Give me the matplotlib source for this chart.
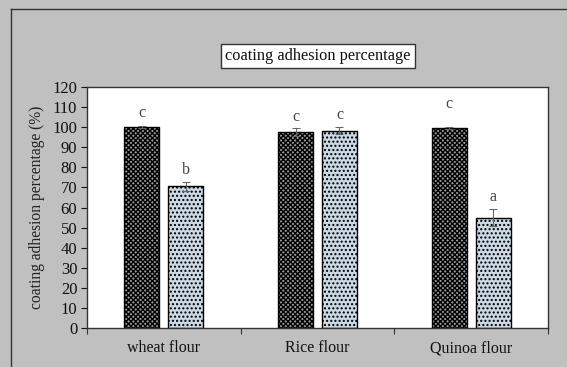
import matplotlib.pyplot as plt
import numpy as np
from matplotlib.lines import Line2D

plt.rcParams["font.family"] = ["Liberation Serif", "DejaVu Serif"]
plt.rcParams["hatch.linewidth"] = 1.0

flours = ["wheat flour", "Rice flour", "Quinoa flour"]
first_vals = [100.1, 97.6, 99.6]
first_err = [0.3, 1.8, 0.5]
second_vals = [70.6, 98.3, 54.9]
second_err = [2.3, 1.8, 4.3]
first_letters = ["c", "c", "c"]
second_letters = ["b", "c", "a"]

fig = plt.figure(figsize=(5.67, 3.67), dpi=100)
fig.patch.set_facecolor("#c0c0c0")

# outer chart frame: only the left and top edges fall inside the image
fx, fy = 11 / 567, 1 - 9 / 367
fig.lines.append(Line2D([fx, fx], [0, fy], transform=fig.transFigure,
                        color="#333333", linewidth=1.0))
fig.lines.append(Line2D([fx, 1], [fy, fy], transform=fig.transFigure,
                        color="#333333", linewidth=1.0))

ax = fig.add_axes([87 / 567, 39 / 367, 461 / 567, 241 / 367])
ax.set_facecolor("white")

x = np.arange(len(flours))
off = 0.143
width = 0.228

ax.bar(x - off, first_vals, width, color="#9a9a9a", edgecolor="black",
       hatch="xxxxxxx", linewidth=1.0, zorder=2)
ax.bar(x + off, second_vals, width, color="#ccd8e4", edgecolor="black",
       hatch="....", linewidth=1.0, zorder=2)
ax.errorbar(x - off, first_vals, yerr=first_err, fmt="none", ecolor="#666666",
            elinewidth=0.8, capsize=3, capthick=0.8, zorder=3)
ax.errorbar(x + off, second_vals, yerr=second_err, fmt="none", ecolor="#666666",
            elinewidth=0.8, capsize=3, capthick=0.8, zorder=3)

first_letter_y = [107, 105, 111.5]
second_letter_y = [78.7, 106, 65]
for i in range(len(flours)):
    ax.text(x[i] - off, first_letter_y[i], first_letters[i], ha="center",
            va="center", fontsize=11.5, color="#444444")
    ax.text(x[i] + off, second_letter_y[i], second_letters[i], ha="center",
            va="center", fontsize=11.5, color="#444444")

ax.set_xlim(-0.5, 2.5)
ax.set_ylim(0, 120)
ax.set_yticks(range(0, 121, 10))
ax.tick_params(axis="y", direction="out", length=4, width=0.8, labelsize=12,
               pad=3, colors="#111111")
ax.set_xticks([-0.5, 0.5, 1.5, 2.5])
ax.set_xticklabels([])
ax.tick_params(axis="x", which="major", direction="out", length=4, width=0.8,
               colors="#333333")
ax.set_xticks(x, minor=True)
ax.set_xticklabels(flours, minor=True, fontsize=11.5)
ax.tick_params(axis="x", which="minor", length=0, pad=9, labelcolor="#111111")

for sp in ax.spines.values():
    sp.set_color("#333333")
    sp.set_linewidth(1.0)

ax.set_ylabel("coating adhesion percentage (%)", fontsize=11.2, color="#222222",
              labelpad=5)

fig.text(318 / 567, 1 - 56 / 367, "coating adhesion percentage", ha="center",
         va="center", fontsize=11.8, color="#111111",
         bbox=dict(boxstyle="square,pad=0.25", facecolor="white",
                   edgecolor="#333333", linewidth=1.0))

fig.savefig("out.png", dpi=100, facecolor=fig.get_facecolor())
